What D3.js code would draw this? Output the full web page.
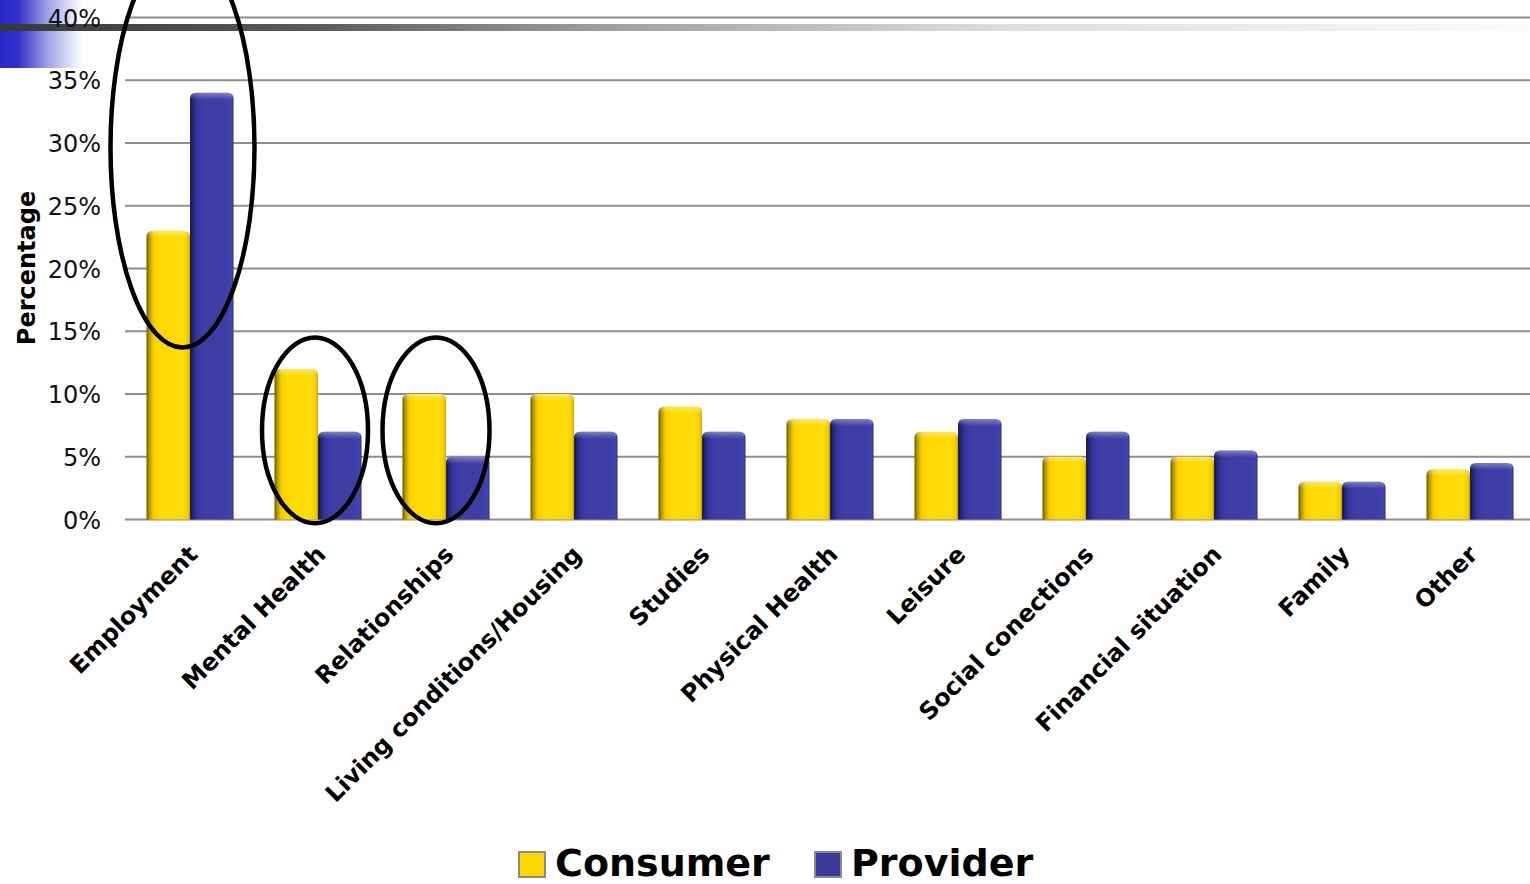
<!DOCTYPE html>
<html>
<head>
<meta charset="utf-8">
<script src="https://cdn.jsdelivr.net/npm/d3@7"></script>
<style>
  html, body { margin: 0; padding: 0; background: #fff; overflow: hidden; }
  svg { display: block; }
</style>
</head>
<body>
<svg id="chart" width="1530" height="884"></svg>
<script>
// ---- data ----
const categories = [
  "Employment", "Mental Health", "Relationships", "Living conditions/Housing",
  "Studies", "Physical Health", "Leisure", "Social conections",
  "Financial situation", "Family", "Other"
];
const seriesNames = ["Consumer", "Provider"];
const consumerValues = [23, 12, 10, 10, 9, 8, 7, 5, 5, 3, 4];
const providerValues = [34, 7, 5, 7, 7, 8, 8, 7, 5.5, 3, 4.5];
const yTicks = [0, 5, 10, 15, 20, 25, 30, 35, 40];
const yTickLabels = ["0%", "5%", "10%", "15%", "20%", "25%", "30%", "35%", "40%"];
// circled groups: vertical extent in percent
const highlightCategories = ["Employment", "Mental Health", "Relationships"];
const highlightLow = [13.7, -0.3, -0.3];
const highlightHigh = [45.6, 14.5, 14.5];

// ---- layout ----
const W = 1530, H = 884;
const FONT = "DejaVu Sans, Verdana, sans-serif";
const svg = d3.select("#chart");
const defs = svg.append("defs");

const x0 = d3.scaleBand().domain(categories).range([126, 1534])
  .paddingInner(0.32).paddingOuter(0.16);
const x1 = d3.scaleBand().domain(seriesNames).range([0, x0.bandwidth()]);
const y = d3.scaleLinear().domain([0, 40]).range([519.5, 17.5]);

const rows = categories.map((c, i) => ({
  category: c,
  values: [
    { series: "Consumer", value: consumerValues[i] },
    { series: "Provider", value: providerValues[i] }
  ]
}));

// ---- gradients ----
function hGrad(id, stops) {
  const g = defs.append("linearGradient").attr("id", id)
    .attr("x1", "0%").attr("x2", "100%").attr("y1", "0%").attr("y2", "0%");
  stops.forEach(s => g.append("stop").attr("offset", s[0]).attr("stop-color", s[1]));
}
hGrad("gradConsumer", [
  ["0%", "#6e5c00"], ["7%", "#b89a00"], ["16%", "#f5cf00"], ["30%", "#ffd900"],
  ["85%", "#ffdb0a"], ["95%", "#f2cc00"], ["100%", "#c9a900"]
]);
hGrad("gradProvider", [
  ["0%", "#171750"], ["7%", "#262677"], ["16%", "#36369a"], ["30%", "#3d3da4"],
  ["85%", "#3e3ea6"], ["95%", "#4646b2"], ["100%", "#2c2c80"]
]);
hGrad("gradTopBlue", [
  ["0%", "#2a2acc"], ["22%", "#3030cc"], ["60%", "#a6a6e6"], ["100%", "#ffffff"]
]);
hGrad("gradTopBar", [
  ["0%", "#383838"], ["20%", "#595959"], ["40%", "#a0a0a0"], ["65%", "#dcdcdc"], ["100%", "#fbfbfb"]
]);
const shine = defs.append("linearGradient").attr("id", "gradShine")
  .attr("x1", "0%").attr("x2", "0%").attr("y1", "0%").attr("y2", "100%");
shine.append("stop").attr("offset", "0%").attr("stop-color", "#fff").attr("stop-opacity", 0.35);
shine.append("stop").attr("offset", "100%").attr("stop-color", "#fff").attr("stop-opacity", 0);

const fills = { Consumer: "url(#gradConsumer)", Provider: "url(#gradProvider)" };
const legendFills = { Consumer: "#ffd700", Provider: "#3a3a9e" };

// ---- top decoration ----
svg.append("rect").attr("x", 0).attr("y", 0).attr("width", 82).attr("height", 68)
  .attr("fill", "url(#gradTopBlue)");
svg.append("rect").attr("x", 0).attr("y", 24).attr("width", W).attr("height", 7)
  .attr("fill", "url(#gradTopBar)");

// ---- gridlines ----
svg.append("g").selectAll("line").data(yTicks).join("line")
  .attr("x1", 125).attr("x2", W)
  .attr("y1", d => y(d)).attr("y2", d => y(d))
  .attr("stroke", "#8e8e8e").attr("stroke-width", 2);

// ---- y axis labels ----
const yAxis = d3.axisLeft(y).tickValues(yTicks)
  .tickFormat((d, i) => yTickLabels[i]).tickSize(0).tickPadding(0);
const yG = svg.append("g").attr("transform", "translate(101,0)").call(yAxis);
yG.select(".domain").remove();
yG.selectAll("text")
  .attr("font-family", FONT)
  .attr("font-size", 24).attr("fill", "#111").attr("dy", "0.36em");

svg.append("text")
  .attr("transform", "translate(35,268) rotate(-90)")
  .attr("text-anchor", "middle")
  .attr("font-family", FONT)
  .attr("font-weight", "bold").attr("font-size", 24).attr("fill", "#000")
  .text("Percentage");

// ---- bars ----
function barPath(x, yy, w, h, r) {
  r = Math.min(r, h / 2, w / 2);
  return `M${x},${yy + h}V${yy + r}Q${x},${yy} ${x + r},${yy}H${x + w - r}Q${x + w},${yy} ${x + w},${yy + r}V${yy + h}Z`;
}

const groups = svg.append("g").selectAll("g").data(rows).join("g")
  .attr("transform", d => `translate(${x0(d.category)},0)`);

groups.selectAll("path.bar").data(d => d.values).join("path")
  .attr("class", "bar")
  .attr("d", d => barPath(x1(d.series), y(d.value), x1.bandwidth(), y(0) - y(d.value), 6))
  .attr("fill", d => fills[d.series]);

groups.selectAll("path.shine").data(d => d.values).join("path")
  .attr("class", "shine")
  .attr("d", d => barPath(x1(d.series) + 1, y(d.value), x1.bandwidth() - 2, 7, 5))
  .attr("fill", "url(#gradShine)");

// ---- category labels ----
svg.append("g").selectAll("text").data(categories).join("text")
  .attr("transform", d => `translate(${x0(d) + x0.bandwidth() / 2 + 9},556) rotate(-45)`)
  .attr("text-anchor", "end")
  .attr("font-family", FONT)
  .attr("font-weight", "bold").attr("font-size", 24).attr("fill", "#000")
  .text(d => d);

// ---- highlight ellipses ----
const ellipseShape = {
  "Employment": { dx: -7.5, rx: 72 },
  "Mental Health": { dx: -3, rx: 53 },
  "Relationships": { dx: -10, rx: 53.5 }
};
svg.append("g").selectAll("ellipse").data(highlightCategories).join("ellipse")
  .attr("cx", d => x0(d) + x0.bandwidth() / 2 + ellipseShape[d].dx)
  .attr("cy", (d, i) => (y(highlightLow[i]) + y(highlightHigh[i])) / 2)
  .attr("rx", d => ellipseShape[d].rx)
  .attr("ry", (d, i) => (y(highlightLow[i]) - y(highlightHigh[i])) / 2)
  .attr("fill", "none").attr("stroke", "#000").attr("stroke-width", 4.5);

// ---- legend ----
const legendX = [519, 815];
const legend = svg.append("g").selectAll("g").data(seriesNames).join("g")
  .attr("transform", (d, i) => `translate(${legendX[i]},0)`);
legend.append("rect")
  .attr("x", 0).attr("y", 852).attr("width", 26).attr("height", 25)
  .attr("fill", d => legendFills[d]).attr("stroke", "#8a8a8a").attr("stroke-width", 2);
legend.append("text")
  .attr("x", 36).attr("y", 876)
  .attr("font-family", FONT)
  .attr("font-weight", "bold").attr("font-size", 38).attr("fill", "#000")
  .text(d => d);
</script>
</body>
</html>
